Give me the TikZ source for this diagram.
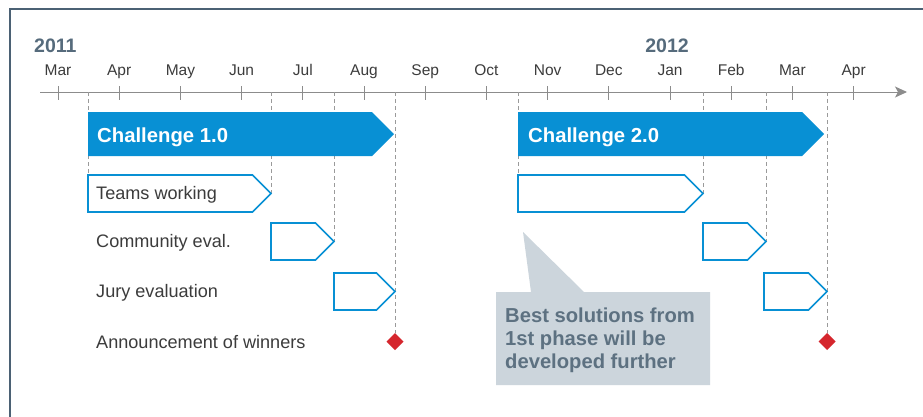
\documentclass[tikz,border=0pt]{standalone}
\usepackage{fontspec}
\setmainfont{Liberation Sans}
\usetikzlibrary{arrows.meta}
\definecolor{cblue}{HTML}{0890D4}
\definecolor{cframe}{HTML}{4B6174}
\definecolor{cyear}{HTML}{566B7C}
\definecolor{caxis}{HTML}{8C8C8C}
\definecolor{cdash}{HTML}{9A9A9A}
\definecolor{clabel}{HTML}{3C3C3C}
\definecolor{ccallfill}{HTML}{CCD5DC}
\definecolor{ccalltext}{HTML}{5D7181}
\definecolor{cred}{HTML}{D5262D}
\tikzset{
  frameline/.style={draw=cframe, line width=2.8pt},
  axisline/.style={draw=caxis, line width=1pt, -{Stealth[length=12pt,width=11pt,inset=3pt]}},
  tickline/.style={draw=caxis, line width=1pt},
  monthlbl/.style={anchor=base, inner sep=0pt, text=clabel, font=\fontsize{15.5}{17}\selectfont},
  yearlbl/.style={anchor=base west, inner sep=0pt, text=cyear, font=\fontsize{19.5}{22}\selectfont\bfseries},
  bigbar/.style={fill=cblue},
  bigtxt/.style={anchor=base west, inner sep=0pt, text=white, font=\fontsize{20.3}{22}\selectfont\bfseries},
  outbox/.style={draw=cblue, fill=white, line width=1.6pt, line join=miter},
  rowlbl/.style={anchor=base west, inner sep=0pt, text=clabel, font=\fontsize{18.1}{20}\selectfont},
  guide/.style={draw=cdash, line width=1pt, dash pattern=on 4pt off 3pt},
  milestone/.style={fill=cred},
  calloutbox/.style={fill=ccallfill},
  callouttxt/.style={anchor=north west, inner sep=0pt, align=left, text=ccalltext, font=\fontsize{20.2}{23}\selectfont\bfseries}
}
\begin{document}
\begin{tikzpicture}[x=1pt,y=-1pt]
\useasboundingbox (0,0) rectangle (923,416);
\fill[white] (0,0) rectangle (923,416);
% frame
\draw[frameline] (10,417) -- (10,9) -- (924,9);
% axis
\coordinate (axs) at (40,92);
\coordinate (axe) at (907,92);
\draw[axisline] (axs) -- (axe);
% months
\foreach \m [count=\i from 0] in {Mar,Apr,May,Jun,Jul,Aug,Sep,Oct,Nov,Dec,Jan,Feb,Mar,Apr}{
  \pgfmathsetmacro{\xx}{58+61.2*\i}
  \coordinate (t\i) at (\xx,86);
  \coordinate (b\i) at (\xx,100);
  \draw[tickline] (t\i) -- (b\i);
  \node[monthlbl] (m\i) at (\xx,75) {\m};
}
\node[yearlbl] (y2011) at (34,52) {2011};
\node[yearlbl, anchor=base] (y2012) at (667,52) {2012};

% guide coordinates on axis
\foreach \n/\x in {a/88,b/271,c/334,d/395,e/518,f/703,g/766,h/827}{
  \coordinate (g\n) at (\x,92);
}
% tips of boxes
\coordinate (tw1top) at (88,175);
\coordinate (tw1tip) at (271,193.5);
\coordinate (ce1tip) at (334,241.5);
\coordinate (ms1top) at (395,333);
\coordinate (tw2top) at (518,175);
\coordinate (tw2tip) at (703,193.5);
\coordinate (ce2tip) at (766,241.5);
\coordinate (ms2top) at (827,333);

\draw[guide] (ga) -- (tw1top);
\draw[guide] (gb) -- (tw1tip);
\draw[guide] (gc) -- (ce1tip);
\draw[guide] (gd) -- (ms1top);
\draw[guide] (ge) -- (tw2top);
\draw[guide] (gf) -- (tw2tip);
\draw[guide] (gg) -- (ce2tip);
\draw[guide] (gh) -- (ms2top);

% challenge bars
\fill[bigbar] (88,112) -- (372,112) -- (394,134) -- (372,156) -- (88,156) -- cycle;
\node[bigtxt] (ch1) at (97,142) {Challenge 1.0};
\fill[bigbar] (518,112) -- (802,112) -- (824,134) -- (802,156) -- (518,156) -- cycle;
\node[bigtxt] (ch2) at (528,142) {Challenge 2.0};

% phase boxes 1
\draw[outbox] (88,175) -- (252.5,175) -- (271,193.5) -- (252.5,212) -- (88,212) -- cycle;
\draw[outbox] (271,223) -- (315.5,223) -- (334,241.5) -- (315.5,260) -- (271,260) -- cycle;
\draw[outbox] (334,273) -- (376.5,273) -- (395,291.5) -- (376.5,310) -- (334,310) -- cycle;
% phase boxes 2
\draw[outbox] (518,175) -- (684.5,175) -- (703,193.5) -- (684.5,212) -- (518,212) -- cycle;
\draw[outbox] (703,223) -- (747.5,223) -- (766,241.5) -- (747.5,260) -- (703,260) -- cycle;
\draw[outbox] (764,273) -- (808.5,273) -- (827,291.5) -- (808.5,310) -- (764,310) -- cycle;

% milestones
\fill[milestone] (395,333) -- (403.5,341.5) -- (395,350) -- (386.5,341.5) -- cycle;
\fill[milestone] (827,333) -- (835.5,341.5) -- (827,350) -- (818.5,341.5) -- cycle;

% row labels
\node[rowlbl] (l1) at (96,199) {Teams working};
\node[rowlbl] (l2) at (96,247) {Community eval.};
\node[rowlbl] (l3) at (96,297) {Jury evaluation};
\node[rowlbl] (l4) at (96,348) {Announcement of winners};

% callout
\fill[calloutbox] (496,292) -- (531,292) -- (523,232) -- (584,292) -- (710,292) -- (710,385) -- (496,385) -- cycle;
\node[callouttxt] (call) at (505,308) {Best solutions from\\1st phase will be\\developed further};
\end{tikzpicture}
\end{document}
